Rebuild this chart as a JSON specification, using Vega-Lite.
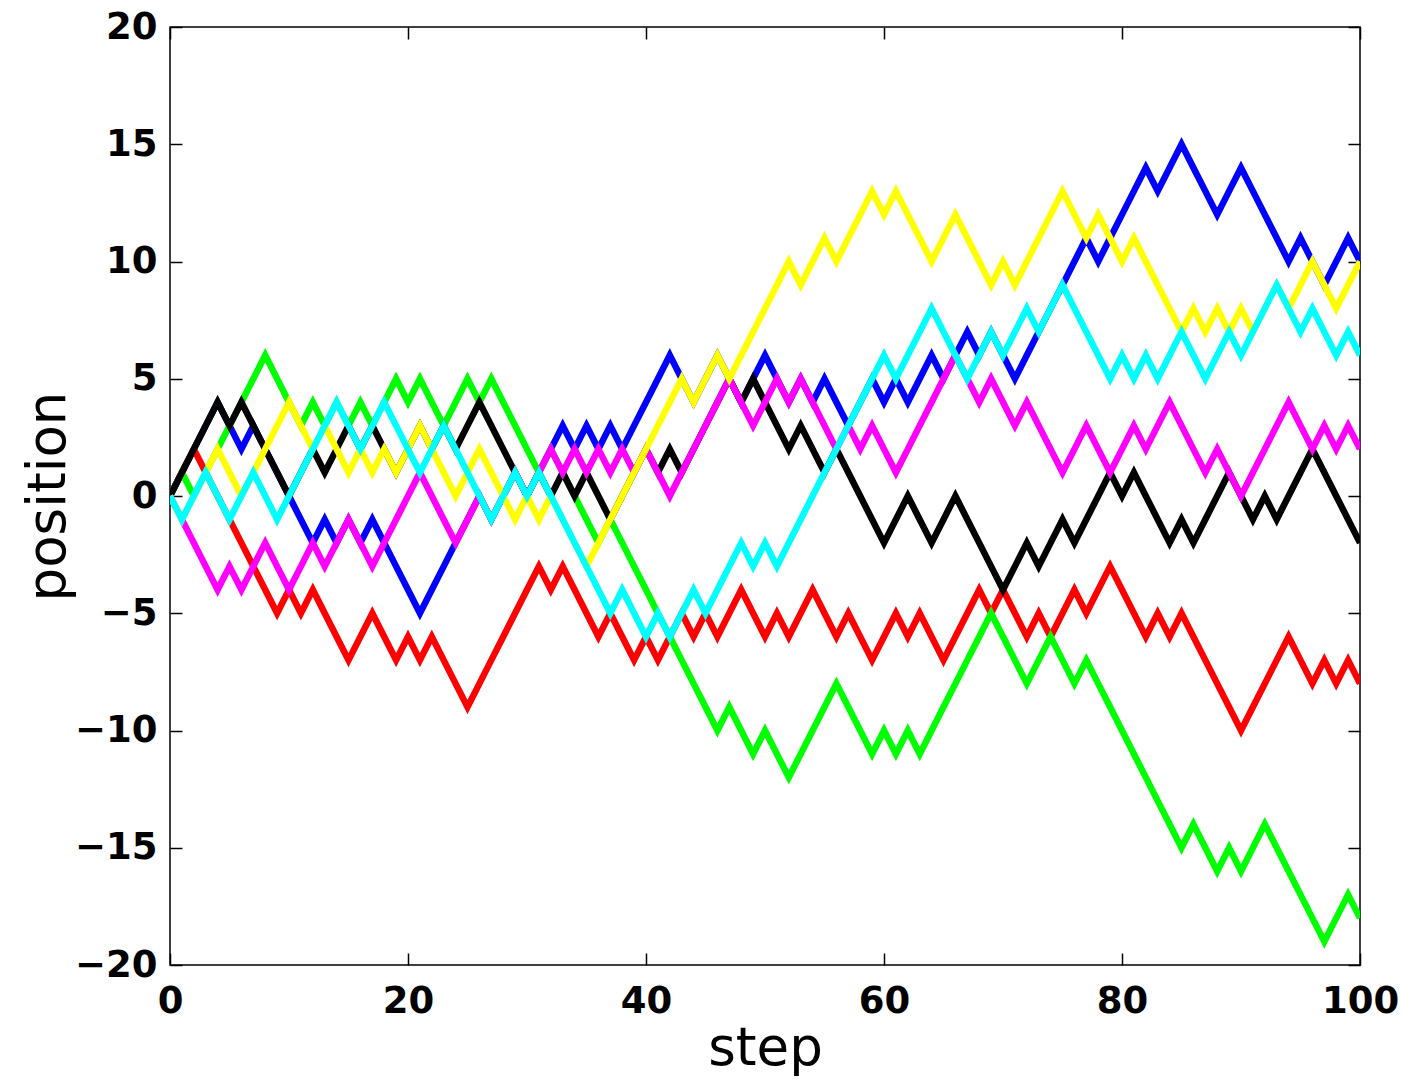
{
"$schema": "https://vega.github.io/schema/vega-lite/v6.json",
"width": 1190, "height": 938,
"autosize": {"type": "none"},
"padding": {"left": 170, "top": 27, "right": 43, "bottom": 117},
"background": "white",
"config": {"view": {"stroke": "black", "strokeWidth": 1.5}, "font": "DejaVu Sans"},
"data": {"values": [
{"step":0,"blue":0,"green":0,"red":0,"yellow":0,"magenta":0,"cyan":0,"black":0},
{"step":1,"blue":1,"green":1,"red":1,"yellow":-1,"magenta":-1,"cyan":-1,"black":1},
{"step":2,"blue":2,"green":0,"red":2,"yellow":0,"magenta":-2,"cyan":0,"black":2},
{"step":3,"blue":3,"green":1,"red":1,"yellow":1,"magenta":-3,"cyan":1,"black":3},
{"step":4,"blue":4,"green":2,"red":0,"yellow":2,"magenta":-4,"cyan":0,"black":4},
{"step":5,"blue":3,"green":3,"red":-1,"yellow":1,"magenta":-3,"cyan":-1,"black":3},
{"step":6,"blue":2,"green":4,"red":-2,"yellow":0,"magenta":-4,"cyan":0,"black":4},
{"step":7,"blue":3,"green":5,"red":-3,"yellow":1,"magenta":-3,"cyan":1,"black":3},
{"step":8,"blue":2,"green":6,"red":-4,"yellow":2,"magenta":-2,"cyan":0,"black":2},
{"step":9,"blue":1,"green":5,"red":-5,"yellow":3,"magenta":-3,"cyan":-1,"black":1},
{"step":10,"blue":0,"green":4,"red":-4,"yellow":4,"magenta":-4,"cyan":0,"black":0},
{"step":11,"blue":-1,"green":3,"red":-5,"yellow":3,"magenta":-3,"cyan":1,"black":1},
{"step":12,"blue":-2,"green":4,"red":-4,"yellow":2,"magenta":-2,"cyan":2,"black":2},
{"step":13,"blue":-1,"green":3,"red":-5,"yellow":3,"magenta":-3,"cyan":3,"black":1},
{"step":14,"blue":-2,"green":4,"red":-6,"yellow":2,"magenta":-2,"cyan":4,"black":2},
{"step":15,"blue":-1,"green":3,"red":-7,"yellow":1,"magenta":-1,"cyan":3,"black":3},
{"step":16,"blue":-2,"green":4,"red":-6,"yellow":2,"magenta":-2,"cyan":2,"black":2},
{"step":17,"blue":-1,"green":3,"red":-5,"yellow":1,"magenta":-3,"cyan":3,"black":3},
{"step":18,"blue":-2,"green":4,"red":-6,"yellow":2,"magenta":-2,"cyan":4,"black":2},
{"step":19,"blue":-3,"green":5,"red":-7,"yellow":1,"magenta":-1,"cyan":3,"black":1},
{"step":20,"blue":-4,"green":4,"red":-6,"yellow":2,"magenta":0,"cyan":2,"black":2},
{"step":21,"blue":-5,"green":5,"red":-7,"yellow":3,"magenta":1,"cyan":1,"black":3},
{"step":22,"blue":-4,"green":4,"red":-6,"yellow":2,"magenta":0,"cyan":2,"black":2},
{"step":23,"blue":-3,"green":3,"red":-7,"yellow":1,"magenta":-1,"cyan":3,"black":3},
{"step":24,"blue":-2,"green":4,"red":-8,"yellow":0,"magenta":-2,"cyan":2,"black":2},
{"step":25,"blue":-1,"green":5,"red":-9,"yellow":1,"magenta":-1,"cyan":1,"black":3},
{"step":26,"blue":0,"green":4,"red":-8,"yellow":2,"magenta":0,"cyan":0,"black":4},
{"step":27,"blue":-1,"green":5,"red":-7,"yellow":1,"magenta":-1,"cyan":-1,"black":3},
{"step":28,"blue":0,"green":4,"red":-6,"yellow":0,"magenta":0,"cyan":0,"black":2},
{"step":29,"blue":1,"green":3,"red":-5,"yellow":-1,"magenta":1,"cyan":1,"black":1},
{"step":30,"blue":0,"green":2,"red":-4,"yellow":0,"magenta":0,"cyan":0,"black":0},
{"step":31,"blue":1,"green":1,"red":-3,"yellow":-1,"magenta":1,"cyan":1,"black":1},
{"step":32,"blue":2,"green":2,"red":-4,"yellow":0,"magenta":2,"cyan":0,"black":0},
{"step":33,"blue":3,"green":1,"red":-3,"yellow":-1,"magenta":1,"cyan":-1,"black":1},
{"step":34,"blue":2,"green":0,"red":-4,"yellow":-2,"magenta":2,"cyan":-2,"black":0},
{"step":35,"blue":3,"green":-1,"red":-5,"yellow":-3,"magenta":1,"cyan":-3,"black":1},
{"step":36,"blue":2,"green":-2,"red":-6,"yellow":-2,"magenta":2,"cyan":-4,"black":0},
{"step":37,"blue":3,"green":-1,"red":-5,"yellow":-1,"magenta":1,"cyan":-5,"black":-1},
{"step":38,"blue":2,"green":-2,"red":-6,"yellow":0,"magenta":2,"cyan":-4,"black":0},
{"step":39,"blue":3,"green":-3,"red":-7,"yellow":1,"magenta":1,"cyan":-5,"black":1},
{"step":40,"blue":4,"green":-4,"red":-6,"yellow":2,"magenta":2,"cyan":-6,"black":2},
{"step":41,"blue":5,"green":-5,"red":-7,"yellow":3,"magenta":1,"cyan":-5,"black":1},
{"step":42,"blue":6,"green":-6,"red":-6,"yellow":4,"magenta":0,"cyan":-6,"black":2},
{"step":43,"blue":5,"green":-7,"red":-5,"yellow":5,"magenta":1,"cyan":-5,"black":1},
{"step":44,"blue":4,"green":-8,"red":-6,"yellow":4,"magenta":2,"cyan":-4,"black":2},
{"step":45,"blue":5,"green":-9,"red":-5,"yellow":5,"magenta":3,"cyan":-5,"black":3},
{"step":46,"blue":6,"green":-10,"red":-6,"yellow":6,"magenta":4,"cyan":-4,"black":4},
{"step":47,"blue":5,"green":-9,"red":-5,"yellow":5,"magenta":5,"cyan":-3,"black":5},
{"step":48,"blue":4,"green":-10,"red":-4,"yellow":6,"magenta":4,"cyan":-2,"black":4},
{"step":49,"blue":5,"green":-11,"red":-5,"yellow":7,"magenta":3,"cyan":-3,"black":5},
{"step":50,"blue":6,"green":-10,"red":-6,"yellow":8,"magenta":4,"cyan":-2,"black":4},
{"step":51,"blue":5,"green":-11,"red":-5,"yellow":9,"magenta":5,"cyan":-3,"black":3},
{"step":52,"blue":4,"green":-12,"red":-6,"yellow":10,"magenta":4,"cyan":-2,"black":2},
{"step":53,"blue":5,"green":-11,"red":-5,"yellow":9,"magenta":5,"cyan":-1,"black":3},
{"step":54,"blue":4,"green":-10,"red":-4,"yellow":10,"magenta":4,"cyan":0,"black":2},
{"step":55,"blue":5,"green":-9,"red":-5,"yellow":11,"magenta":3,"cyan":1,"black":1},
{"step":56,"blue":4,"green":-8,"red":-6,"yellow":10,"magenta":2,"cyan":2,"black":2},
{"step":57,"blue":3,"green":-9,"red":-5,"yellow":11,"magenta":3,"cyan":3,"black":1},
{"step":58,"blue":4,"green":-10,"red":-6,"yellow":12,"magenta":2,"cyan":4,"black":0},
{"step":59,"blue":5,"green":-11,"red":-7,"yellow":13,"magenta":3,"cyan":5,"black":-1},
{"step":60,"blue":4,"green":-10,"red":-6,"yellow":12,"magenta":2,"cyan":6,"black":-2},
{"step":61,"blue":5,"green":-11,"red":-5,"yellow":13,"magenta":1,"cyan":5,"black":-1},
{"step":62,"blue":4,"green":-10,"red":-6,"yellow":12,"magenta":2,"cyan":6,"black":0},
{"step":63,"blue":5,"green":-11,"red":-5,"yellow":11,"magenta":3,"cyan":7,"black":-1},
{"step":64,"blue":6,"green":-10,"red":-6,"yellow":10,"magenta":4,"cyan":8,"black":-2},
{"step":65,"blue":5,"green":-9,"red":-7,"yellow":11,"magenta":5,"cyan":7,"black":-1},
{"step":66,"blue":6,"green":-8,"red":-6,"yellow":12,"magenta":6,"cyan":6,"black":0},
{"step":67,"blue":7,"green":-7,"red":-5,"yellow":11,"magenta":5,"cyan":5,"black":-1},
{"step":68,"blue":6,"green":-6,"red":-4,"yellow":10,"magenta":4,"cyan":6,"black":-2},
{"step":69,"blue":7,"green":-5,"red":-5,"yellow":9,"magenta":5,"cyan":7,"black":-3},
{"step":70,"blue":6,"green":-6,"red":-4,"yellow":10,"magenta":4,"cyan":6,"black":-4},
{"step":71,"blue":5,"green":-7,"red":-5,"yellow":9,"magenta":3,"cyan":7,"black":-3},
{"step":72,"blue":6,"green":-8,"red":-6,"yellow":10,"magenta":4,"cyan":8,"black":-2},
{"step":73,"blue":7,"green":-7,"red":-5,"yellow":11,"magenta":3,"cyan":7,"black":-3},
{"step":74,"blue":8,"green":-6,"red":-6,"yellow":12,"magenta":2,"cyan":8,"black":-2},
{"step":75,"blue":9,"green":-7,"red":-5,"yellow":13,"magenta":1,"cyan":9,"black":-1},
{"step":76,"blue":10,"green":-8,"red":-4,"yellow":12,"magenta":2,"cyan":8,"black":-2},
{"step":77,"blue":11,"green":-7,"red":-5,"yellow":11,"magenta":3,"cyan":7,"black":-1},
{"step":78,"blue":10,"green":-8,"red":-4,"yellow":12,"magenta":2,"cyan":6,"black":0},
{"step":79,"blue":11,"green":-9,"red":-3,"yellow":11,"magenta":1,"cyan":5,"black":1},
{"step":80,"blue":12,"green":-10,"red":-4,"yellow":10,"magenta":2,"cyan":6,"black":0},
{"step":81,"blue":13,"green":-11,"red":-5,"yellow":11,"magenta":3,"cyan":5,"black":1},
{"step":82,"blue":14,"green":-12,"red":-6,"yellow":10,"magenta":2,"cyan":6,"black":0},
{"step":83,"blue":13,"green":-13,"red":-5,"yellow":9,"magenta":3,"cyan":5,"black":-1},
{"step":84,"blue":14,"green":-14,"red":-6,"yellow":8,"magenta":4,"cyan":6,"black":-2},
{"step":85,"blue":15,"green":-15,"red":-5,"yellow":7,"magenta":3,"cyan":7,"black":-1},
{"step":86,"blue":14,"green":-14,"red":-6,"yellow":8,"magenta":2,"cyan":6,"black":-2},
{"step":87,"blue":13,"green":-15,"red":-7,"yellow":7,"magenta":1,"cyan":5,"black":-1},
{"step":88,"blue":12,"green":-16,"red":-8,"yellow":8,"magenta":2,"cyan":6,"black":0},
{"step":89,"blue":13,"green":-15,"red":-9,"yellow":7,"magenta":1,"cyan":7,"black":1},
{"step":90,"blue":14,"green":-16,"red":-10,"yellow":8,"magenta":0,"cyan":6,"black":0},
{"step":91,"blue":13,"green":-15,"red":-9,"yellow":7,"magenta":1,"cyan":7,"black":-1},
{"step":92,"blue":12,"green":-14,"red":-8,"yellow":8,"magenta":2,"cyan":8,"black":0},
{"step":93,"blue":11,"green":-15,"red":-7,"yellow":9,"magenta":3,"cyan":9,"black":-1},
{"step":94,"blue":10,"green":-16,"red":-6,"yellow":8,"magenta":4,"cyan":8,"black":0},
{"step":95,"blue":11,"green":-17,"red":-7,"yellow":9,"magenta":3,"cyan":7,"black":1},
{"step":96,"blue":10,"green":-18,"red":-8,"yellow":10,"magenta":2,"cyan":8,"black":2},
{"step":97,"blue":9,"green":-19,"red":-7,"yellow":9,"magenta":3,"cyan":7,"black":1},
{"step":98,"blue":10,"green":-18,"red":-8,"yellow":8,"magenta":2,"cyan":6,"black":0},
{"step":99,"blue":11,"green":-17,"red":-7,"yellow":9,"magenta":3,"cyan":7,"black":-1},
{"step":100,"blue":10,"green":-18,"red":-8,"yellow":10,"magenta":2,"cyan":6,"black":-2}
]},
"transform": [{"fold": ["blue","red","green","black","magenta","yellow","cyan"], "as": ["walk","position"]}],
"layer": [
{"mark": {"type": "line", "strokeWidth": 6.5, "clip": true},
 "encoding": {
  "x": {"field": "step", "type": "quantitative", "scale": {"domain": [0,100], "nice": false},
        "axis": {"values": [0,20,40,60,80,100], "title": "step", "grid": false, "domain": false,
                 "tickSize": -12, "tickColor": "black", "tickWidth": 1.5,
                 "labelFont": "DejaVu Sans", "labelFontWeight": "bold", "labelFontSize": 37, "labelColor": "black",
                 "labelPadding": 30, "labelBaseline": "top", "labelFlush": false, "labelOverlap": false,
                 "titleFont": "DejaVu Sans", "titleFontWeight": "normal", "titleFontSize": 53, "titleColor": "black",
                 "titleBaseline": "alphabetic", "titleY": 99}},
  "y": {"field": "position", "type": "quantitative", "scale": {"domain": [-20,20], "nice": false},
        "axis": {"values": [-20,-15,-10,-5,0,5,10,15,20], "title": "position", "grid": false, "domain": false,
                 "tickSize": -12, "tickColor": "black", "tickWidth": 1.5,
                 "labelFont": "DejaVu Sans", "labelFontWeight": "bold", "labelFontSize": 37, "labelColor": "black",
                 "labelPadding": 25, "labelFlush": false, "labelOverlap": false,
                 "titleFont": "DejaVu Sans", "titleFontWeight": "normal", "titleFontSize": 53, "titleColor": "black",
                 "titleBaseline": "alphabetic", "titleAngle": -90, "titleX": -106, "titleY": 469, "titleAlign": "center"}},
  "color": {"field": "walk", "type": "nominal",
            "scale": {"domain": ["blue","green","red","yellow","magenta","cyan","black"],
                      "range": ["#0000ff","#00ff00","#ff0000","#ffff00","#ff00ff","#00ffff","#000000"]},
            "legend": null}
 }},
{"mark": {"type": "line", "opacity": 0},
 "encoding": {
  "x": {"field": "step", "type": "quantitative", "scale": {"domain": [0,100], "nice": false},
        "axis": {"orient": "top", "values": [0,20,40,60,80,100], "labels": false, "title": null, "grid": false, "domain": false,
                 "tickSize": -12, "tickColor": "black", "tickWidth": 1.5}},
  "y": {"field": "position", "type": "quantitative", "scale": {"domain": [-20,20], "nice": false},
        "axis": {"orient": "right", "values": [-20,-15,-10,-5,0,5,10,15,20], "labels": false, "title": null, "grid": false, "domain": false,
                 "tickSize": -12, "tickColor": "black", "tickWidth": 1.5}},
  "detail": {"field": "walk", "type": "nominal"}
 }}
],
"resolve": {"scale": {"x": "independent", "y": "independent"}, "axis": {"x": "independent", "y": "independent"}}
}
